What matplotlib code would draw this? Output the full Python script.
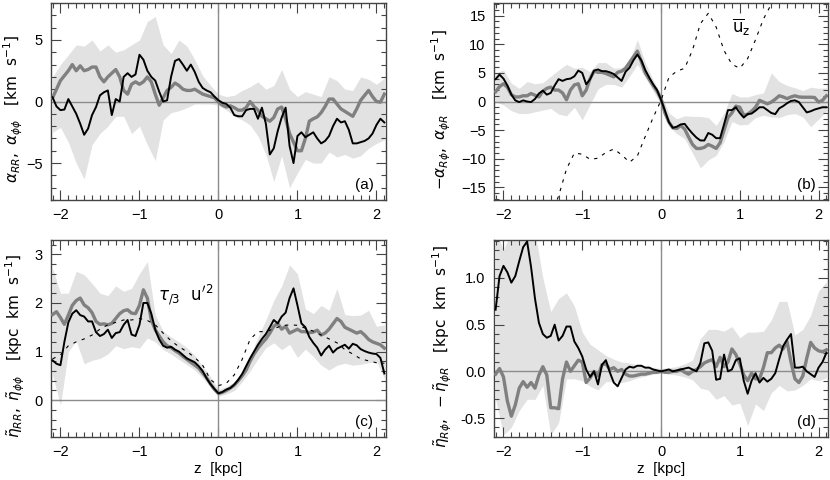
import matplotlib
matplotlib.use('Agg')
import matplotlib.pyplot as plt
import numpy as np
from matplotlib.ticker import MultipleLocator, FormatStrFormatter

# sampling positions in z [kpc]
z_line = np.linspace(-2.1, 2.1, 85)
z_band = np.linspace(-2.1, 2.1, 43)
z_uz = np.linspace(-1.4, 1.5, 30)

# ---- panel (a): alpha_RR (black), alpha_phiphi (grey)
a_black = [0.35, -0.4, -0.7, -0.65, 0.2, -0.4, -1.0, -1.8, -2.7, -2.2,
           -1.1, -0.45, 0.5, 0.75, 0.9, -1.1, 0.2, 0.0, 2.0, 2.3,
           2.0, 2.2, 3.8, 3.4, 2.5, 2.0, 1.7, 0.8, 0.0, 0.1,
           2.0, 3.3, 3.45, 3.0, 2.5, 3.0, 2.4, 1.6, 1.1, 0.9,
           0.75, 0.4, 0.1, -0.1, -0.2, -0.5, -1.1, -1.2, -1.2, -0.7,
           -0.6, -0.6, -1.4, -0.5, -1.8, -4.3, -3.8, -2.4, -1.3, -0.5,
           -3.6, -5.0, -2.8, -2.5, -2.9, -2.7, -2.5, -3.0, -3.4, -3.2,
           -2.8, -2.0, -1.4, -1.7, -1.6, -2.3, -3.4, -3.4, -3.3, -3.2,
           -3.0, -2.6, -1.9, -1.4, -1.7]
a_grey = [0.3, 1.0, 1.7, 2.1, 2.5, 3.0, 2.5, 2.9, 2.5, 2.6,
          2.8, 2.8, 2.0, 1.6, 2.0, 2.3, 2.6, 2.0, 0.9, 0.6,
          1.4, 1.6, 1.4, 1.6, 2.0, 1.6, 0.6, -0.3, 0.3, 0.9,
          1.15, 1.5, 1.3, 1.0, 0.9, 0.9, 1.0, 0.8, 0.6, 0.5,
          0.4, 0.3, -0.05, -0.3, -0.45, -0.35, -0.5, -0.7, -0.7, -0.5,
          0.0, -0.4, -0.7, -1.2, -1.4, -1.6, -1.3, -0.6, -0.45, -1.4,
          -2.6, -3.3, -4.0, -4.0, -3.0, -1.6, -1.4, -1.25, -0.9, -0.4,
          0.2, 0.2, -0.2, -0.6, -0.8, -1.0, -1.2, -0.6, 0.1, 0.5,
          0.9, 0.4, 0.0, -0.05, 0.6]
a_band_hi = [2.0, 3.0, 3.8, 4.6, 4.5, 5.0, 4.1, 4.6, 4.0, 4.2,
             4.6, 5.0, 6.5, 6.9, 4.6, 3.9, 5.0, 4.5, 3.4, 2.1,
             1.3, 0.6, 0.4, 0.5, 0.9, 1.2, 1.6, 1.0, 1.3, 2.6,
             1.0, 0.4, 0.8, 0.6, 0.4, 2.0, 1.7, 1.0, 0.9, 2.0,
             1.8, 1.4, 1.9]
a_band_lo = [-2.5, -2.1, -3.3, -5.0, -6.3, -3.5, -2.6, -2.0, -1.2, -1.2,
             -2.6, -2.0, -3.5, -4.8, -1.5, -0.9, -0.75, -0.5, -0.2, -0.2,
             -0.2, -0.3, -0.7, -1.2, -1.5, -1.9, -2.8, -4.3, -6.5, -4.4,
             -7.0, -5.8, -4.7, -5.0, -5.0, -4.1, -4.5, -4.3, -4.6, -4.4,
             -3.8, -3.4, -3.1]

# ---- panel (b): -alpha_Rphi (black), alpha_phiR (grey), mean u_z (dashed)
b_black = [3.9, 4.7, 4.0, 2.8, 1.2, 0.2, -0.1, 0.2, 0.0, -0.1,
           0.45, 1.4, 1.9, 1.2, 1.5, 2.8, 3.9, 3.6, 3.9, 4.0,
           4.4, 5.4, 5.0, 3.0, 3.9, 5.4, 5.6, 5.3, 5.3, 5.1,
           4.8, 4.2, 3.6, 5.2, 5.9, 7.2, 8.2, 7.2, 5.5, 4.2,
           3.0, 2.0, 0.3, -1.6, -3.6, -4.6, -4.4, -4.0, -3.9, -4.8,
           -5.6, -6.3, -6.8, -6.8, -5.5, -5.8, -6.4, -6.4, -4.0, -1.5,
           -1.5, -1.0, -2.0, -2.8, -2.2, -2.1, -1.6, -1.0, -1.0, -1.5,
           -2.0, -2.2, -1.2, -0.8, -0.3, 0.1, 0.2, -0.1, -1.0, -1.9,
           -1.7, -1.4, -1.2, -1.0, -1.0]
b_grey = [1.7, 2.6, 3.1, 2.5, 1.2, 0.8, 0.8, 1.0, 1.0, 1.4,
          1.1, 0.8, 1.8, 2.3, 2.5, 2.0, 2.0, 1.5, 0.3, 2.0,
          2.9, 3.1, 1.0, 2.0, 4.0, 5.3, 5.1, 5.1, 4.9, 4.6,
          4.3, 5.1, 5.3, 5.8, 6.8, 7.8, 8.8, 7.0, 5.0, 3.9,
          2.8, 1.8, 0.5, -2.0, -3.6, -4.6, -4.7, -4.2, -4.8, -6.2,
          -7.5, -8.2, -8.2, -8.0, -7.5, -7.8, -8.2, -7.2, -5.0, -2.8,
          -2.0, -0.8, -1.0, -2.4, -2.2, -1.7, -1.0, 0.2, -0.1, -0.4,
          -0.1, 0.4, 1.0, 0.8, 0.5, 0.8, 1.0, 0.8, 0.75, 0.75,
          0.75, 0.7, -0.1, 0.2, 1.0]
b_band_hi = [5.0, 5.5, 3.2, 2.3, 3.5, 3.1, 3.3, 4.4, 5.5, 6.5,
             5.8, 6.0, 5.2, 6.8, 6.8, 5.8, 5.9, 7.0, 10.8, 6.8,
             3.8, 1.2, -2.0, -3.0, -2.5, -2.6, -2.6, -2.8, -4.2, -2.0,
             1.4, 0.8, 0.8, 1.2, 1.5, 5.0, 3.5, 2.8, 2.4, 1.9,
             2.5, 2.3, 2.4]
b_band_lo = [0.0, -0.6, -1.6, -2.1, -2.1, -1.8, -1.5, -1.2, -2.2, -2.5,
             -1.0, -3.2, -0.5, 2.2, 3.0, 3.0, 2.5, 4.4, 6.5, 4.2,
             1.8, -0.5, -4.3, -5.6, -6.5, -9.0, -11.6, -10.2, -9.4, -7.0,
             -3.5, -4.1, -4.0, -2.8, -2.4, -2.7, -2.8, -2.3, -2.1, -2.7,
             -4.4, -3.1, -1.6]
b_uz = [-20.0, -16.5, -11.8, -9.0, -9.2, -10.1, -9.9, -8.9, -8.3, -9.3,
        -10.6, -9.5, -6.1, -2.8, 0.2, 4.2, 5.3, 5.8, 9.0, 13.6,
        15.4, 13.0, 8.9, 6.5, 5.8, 7.5, 10.8, 14.4, 17.0, 20.0]

# ---- panel (c): eta_RR (black), eta_phiphi (grey), tau/3 u'^2 (dashed)
c_black = [0.82, 0.75, 0.72, 1.2, 1.6, 1.78, 1.85, 1.75, 1.72, 1.62,
           1.62, 1.40, 1.32, 1.36, 1.45, 1.28, 1.38, 1.40, 1.55, 1.65,
           1.35, 1.32, 1.55, 2.0, 2.0, 1.78, 1.45, 1.25, 1.12, 1.08,
           1.10, 1.04, 1.0, 0.93, 0.86, 0.82, 0.78, 0.70, 0.60, 0.45,
           0.33, 0.23, 0.14, 0.17, 0.22, 0.25, 0.32, 0.42, 0.54, 0.70,
           0.86, 1.0, 1.14, 1.26, 1.36, 1.50, 1.65, 1.58, 1.72, 1.80,
           2.10, 2.30, 1.95, 1.58, 1.50, 1.30, 1.18, 1.08, 0.92, 1.04,
           1.12, 0.98, 1.06, 1.10, 1.14, 1.06, 1.16, 1.13, 1.05, 1.01,
           0.98, 0.96, 0.95, 0.87, 0.55]
c_grey = [1.76, 1.82, 1.70, 1.56, 1.75, 1.95, 2.05, 2.10, 1.96, 1.90,
          1.80, 1.62, 1.56, 1.57, 1.55, 1.58, 1.68, 1.78, 1.84, 1.86,
          1.79, 1.78, 1.95, 2.27, 2.10, 1.65, 1.45, 1.32, 1.20, 1.12,
          1.08, 1.02, 0.97, 0.90, 0.84, 0.78, 0.72, 0.66, 0.56, 0.46,
          0.33, 0.22, 0.14, 0.16, 0.20, 0.25, 0.31, 0.40, 0.50, 0.62,
          0.80, 0.95, 1.07, 1.17, 1.26, 1.38, 1.52, 1.58, 1.46, 1.52,
          1.38, 1.42, 1.46, 1.41, 1.41, 1.39, 1.40, 1.44, 1.34, 1.38,
          1.46, 1.57, 1.68, 1.62, 1.50, 1.46, 1.42, 1.38, 1.41, 1.34,
          1.25, 1.20, 1.17, 1.14, 1.07]
c_dash = [0.85, 0.93, 1.12, 1.20, 1.26, 1.34, 1.46, 1.55, 1.60, 1.65,
          1.65, 1.68, 1.64, 1.55, 1.38, 1.22, 1.10, 1.0, 0.88, 0.72,
          0.42, 0.30, 0.35, 0.52, 0.84, 1.25, 1.41, 1.41, 1.47, 1.53,
          1.55, 1.54, 1.48, 1.42, 1.34, 1.26, 1.18, 1.04, 0.95, 0.85,
          0.81, 0.77, 0.76]
c_band_hi = [2.72, 2.2, 2.2, 2.65, 2.58, 2.40, 2.20, 2.15, 2.35, 2.24,
             2.30, 2.6, 2.85, 1.75, 1.42, 1.30, 1.20, 1.08, 0.92, 0.70,
             0.48, 0.22, 0.28, 0.37, 0.57, 0.90, 1.30, 1.65, 2.05, 2.35,
             2.78, 2.6, 1.88, 1.78, 1.95, 1.85, 2.3, 1.76, 1.74, 1.75,
             1.85, 1.52, 1.55]
c_band_lo = [0.52, -0.10, 1.0, 1.22, 0.75, 0.82, 0.86, 0.95, 1.12, 1.06,
             1.10, 1.07, 1.28, 1.20, 1.04, 0.95, 0.84, 0.73, 0.62, 0.46,
             0.28, 0.08, 0.13, 0.20, 0.38, 0.60, 0.85, 1.08, 1.18, 1.04,
             1.15, 0.88, 1.05, 0.90, 0.72, 0.62, 0.72, 0.76, 0.72, 0.74,
             0.77, 0.80, 0.45]

# ---- panel (d): eta_Rphi (black), -eta_phiR (grey)
d_black = [0.66, 1.02, 1.13, 1.06, 0.95, 1.02, 1.18, 1.33, 1.39, 1.12,
           0.78, 0.52, 0.40, 0.36, 0.38, 0.50, 0.33, 0.38, 0.48, 0.48,
           0.32, 0.25, 0.16, 0.02, -0.06, 0.0, -0.14, 0.07, 0.12, -0.01,
           -0.12, -0.16, -0.07, 0.02, 0.05, 0.04, 0.06, 0.06, 0.04, 0.04,
           0.02, 0.01, 0.0, 0.01, 0.02, 0.0, 0.01, 0.02, 0.03, 0.04,
           0.02, 0.0, 0.09, 0.30, 0.31, 0.22, -0.09, -0.08, 0.18, 0.0,
           0.02, 0.12, 0.14, -0.10, -0.24, -0.10, -0.02, -0.12, -0.07, -0.11,
           -0.08, -0.02, 0.13, 0.27, 0.34, 0.40, 0.04, 0.04, 0.05, 0.0,
           -0.03, -0.06, 0.04, 0.10, 0.20]
d_grey = [-0.03, 0.03, -0.06, -0.32, -0.48, -0.36, -0.18, -0.11, -0.17, -0.12,
          -0.18, -0.04, 0.05, -0.04, -0.39, -0.39, -0.40, -0.08, 0.10, 0.0,
          0.06, 0.12, 0.10, -0.12, -0.07, 0.0, -0.05, 0.07, 0.08, 0.02,
          0.04, 0.0, 0.02, -0.03, -0.05, -0.05, -0.04, -0.03, -0.03, -0.02,
          -0.01, -0.01, 0.0, -0.01, -0.01, 0.0, 0.0, 0.02, -0.01, -0.03,
          0.0, 0.02, 0.05, 0.09, 0.11, 0.125, 0.05, 0.15, 0.05, 0.10,
          0.24, 0.18, 0.08, -0.04, -0.10, -0.02, -0.08, -0.08, 0.04, 0.20,
          0.20, 0.25, 0.28, 0.24, 0.32, 0.10, -0.08, -0.12, -0.05, 0.14,
          0.31, 0.25, 0.22, 0.21, 0.23]
d_band_hi = [1.5, 1.3, 1.5, 1.5, 1.5, 1.5, 1.0, 0.64, 0.78, 0.84,
             0.7, 0.42, 0.29, 0.23, 0.17, 0.13, 0.10, 0.09, 0.07, 0.05,
             0.04, 0.03, 0.04, 0.05, 0.08, 0.12, 0.35, 0.45, 0.45, 0.43,
             0.48, 0.36, 0.42, 0.42, 0.43, 0.55, 0.75, 0.75, 0.39, 0.45,
             0.6, 0.86, 0.96]
d_band_lo = [-0.3, -0.68, -0.6, -0.42, -0.3, -0.3, -0.15, -0.68, -0.55, -0.08,
             -0.08, -0.1, -0.16, -0.2, -0.11, -0.11, -0.12, -0.1, -0.07, -0.05,
             -0.03, -0.02, -0.03, -0.04, -0.06, -0.09, -0.18, -0.2, -0.3, -0.26,
             -0.36, -0.34, -0.58, -0.35, -0.42, -0.23, -0.15, -0.21, -0.2, -0.15,
             -0.08, -0.1, -0.07]

FONT = 'Liberation Sans'
plt.rcParams['font.family'] = FONT
plt.rcParams['mathtext.fontset'] = 'dejavusans'


def draw_panel(ax, black, grey, band_lo, band_hi, ylim, ymajor, yminor, ylabel, label_x, tag, yfmt=None):
    """Draws one panel: shaded band, zero lines, grey and black profiles, IDL-like axes."""
    ax.fill_between(z_band, band_lo, band_hi, color='#e2e2e2', linewidth=0, zorder=1)
    ax.axhline(0, color='#8c8c8c', lw=1.0, zorder=2)
    ax.axvline(0, color='#8c8c8c', lw=1.0, zorder=2)
    ax.plot(z_line, grey, color='#808080', lw=2.4, zorder=3)
    ax.plot(z_line, black, color='black', lw=1.4, zorder=4)

    ax.set_xlim(-2.12, 2.12)
    ax.set_ylim(*ylim)
    ax.xaxis.set_major_locator(MultipleLocator(1))
    ax.xaxis.set_minor_locator(MultipleLocator(0.1))
    ax.yaxis.set_major_locator(MultipleLocator(ymajor))
    ax.yaxis.set_minor_locator(MultipleLocator(yminor))
    if yfmt:
        ax.yaxis.set_major_formatter(FormatStrFormatter(yfmt))
    ax.tick_params(which='both', direction='in', top=True, right=True,
                   color='#444444', labelsize=10.5)
    ax.tick_params(which='major', length=7, width=0.8, pad=6)
    ax.tick_params(which='minor', length=3.5, width=0.8)
    for s in ax.spines.values():
        s.set_color('#444444')
        s.set_linewidth(1.0)
    ax.set_ylabel(ylabel, fontsize=11)
    ax.yaxis.set_label_coords(label_x, 0.46)
    ax.text(0.935, 0.075, tag, transform=ax.transAxes, ha='center', va='center', fontsize=11)


fig = plt.figure(figsize=(8.3, 4.8), dpi=100)
ax_a = fig.add_axes([0.0614, 0.5833, 0.4036, 0.4104])
ax_b = fig.add_axes([0.5952, 0.5833, 0.4024, 0.4104])
ax_c = fig.add_axes([0.0614, 0.0902, 0.4036, 0.4104])
ax_d = fig.add_axes([0.5952, 0.0902, 0.4024, 0.4104])

draw_panel(ax_a, a_black, a_grey, a_band_lo, a_band_hi, (-8, 8), 5, 1,
           r'$\alpha_{RR},\ \alpha_{\phi\phi}\ \ \ [\mathrm{km\ \ s^{-1}}]$', -0.078, '(a)')
draw_panel(ax_b, b_black, b_grey, b_band_lo, b_band_hi, (-17.2, 17.2), 5, 1,
           r'$-\alpha_{R\phi},\ \alpha_{\phi R}\ \ \ [\mathrm{km\ \ s^{-1}}]$', -0.123, '(b)')
draw_panel(ax_c, c_black, c_grey, c_band_lo, c_band_hi, (-0.75, 3.3), 1, 0.2,
           r'$\tilde{\eta}_{RR},\ \tilde{\eta}_{\phi\phi}\ \ \ [\mathrm{kpc\ \ km\ \ s^{-1}}]$', -0.072, '(c)')
draw_panel(ax_d, d_black, d_grey, d_band_lo, d_band_hi, (-0.7, 1.41), 0.5, 0.1,
           r'$\tilde{\eta}_{R\phi},\ -\tilde{\eta}_{\phi R}\ \ \ [\mathrm{kpc\ \ km\ \ s^{-1}}]$', -0.120, '(d)',
           yfmt='%.1f')

# dashed reference curves
ax_b.plot(z_uz, b_uz, color='black', lw=0.8, ls=(0, (3, 5)), zorder=5)
ax_b.text(1.02, 13.0, r'$\overline{\mathrm{u}}_\mathrm{z}$', ha='center', va='center', fontsize=12)
ax_c.plot(z_band, c_dash, color='black', lw=0.8, ls=(0, (3, 5)), zorder=5)
ax_c.text(-0.76, 2.17, r"$\tau_{/3}\ \ \mathrm{u}'^{2}$", ha='left', va='center', fontsize=12)

for ax in (ax_c, ax_d):
    ax.set_xlabel('z  [kpc]', fontsize=11, labelpad=2)

fig.savefig('out.png', dpi=100)
